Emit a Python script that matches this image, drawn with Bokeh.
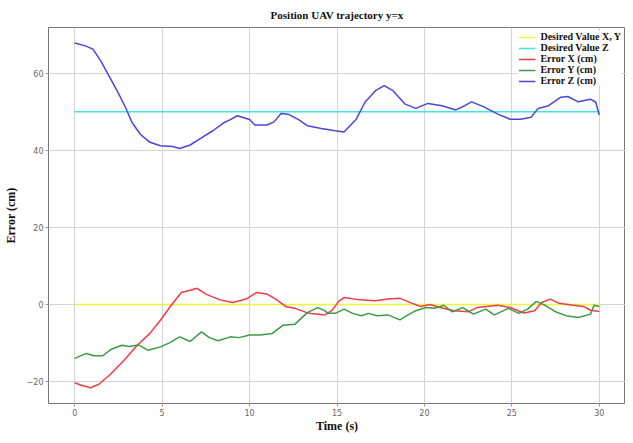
from bokeh.plotting import figure
from bokeh.models import Range1d, FixedTicker, Legend, LegendItem
from bokeh.embed import file_html
from bokeh.resources import INLINE

# ---- data ----
t_desired = [0, 30]
desired_xy = [0, 0]
desired_z = [50, 50]

t_x = [0, 0.34, 0.9, 1.38, 2.0, 2.8, 3.55, 4.3, 4.9, 5.55, 6.1, 6.6, 7.0, 7.5, 8.3,
       9.05, 9.8, 10.4, 11.0, 11.5, 12.1, 12.6, 13.4, 14.3, 14.7, 15.1, 15.4, 16.3, 17.2, 17.9,
       18.6, 19.3, 19.8, 20.3, 20.9, 21.7, 22.5, 23.0, 24.2, 24.9, 25.7, 26.3, 26.7, 27.2, 27.7,
       28.5, 29.1, 29.5, 30.0]
err_x = [-20.3, -20.9, -21.6, -20.7, -18.3, -14.6, -10.7, -7.5, -4.1, 0.0, 3.1, 3.7, 4.2, 2.7, 1.2,
         0.5, 1.4, 3.1, 2.7, 1.4, -0.6, -1.0, -2.3, -2.7, -1.6, 0.8, 1.8, 1.2, 1.0, 1.4,
         1.6, 0.3, -0.5, 0.0, -0.8, -1.6, -1.9, -0.8, -0.2, -0.8, -2.2, -1.6, 0.5, 1.4, 0.3,
         -0.2, -0.5, -1.5, -1.8]

t_y = [0, 0.66, 1.1, 1.6, 2.1, 2.7, 3.1, 3.65, 4.2, 4.9, 5.45, 6.0, 6.6, 7.25, 7.7,
       8.2, 8.9, 9.4, 10.0, 10.6, 11.3, 11.9, 12.6, 13.3, 13.9, 14.3, 14.5, 14.9, 15.4, 15.9,
       16.4, 16.8, 17.3, 17.9, 18.6, 19.0, 19.5, 20.1, 20.6, 21.1, 21.6, 22.2, 22.8, 23.5, 24.0,
       24.8, 25.4, 25.9, 26.4, 26.9, 27.5, 28.1, 28.8, 29.5, 29.7, 30.0]
err_y = [-14.0, -12.7, -13.3, -13.3, -11.6, -10.6, -10.9, -10.5, -11.9, -11.0, -9.9, -8.4, -9.6, -7.1, -8.6,
         -9.4, -8.4, -8.6, -7.9, -7.9, -7.5, -5.4, -5.1, -2.1, -0.8, -1.6, -2.3, -2.3, -1.2, -2.3,
         -2.9, -2.3, -2.9, -2.7, -4.0, -2.9, -1.6, -0.8, -1.0, -0.2, -1.9, -0.8, -2.5, -1.2, -2.7,
         -1.0, -2.3, -1.2, 0.8, -0.2, -1.9, -2.9, -3.4, -2.5, -0.2, -0.5]

t_z = [0, 0.57, 1.04, 1.48, 1.95, 2.42, 2.9, 3.27, 3.75, 4.3, 4.9, 5.6, 6.0, 6.6, 7.2,
       7.9, 8.5, 8.9, 9.3, 10.0, 10.3, 11.0, 11.4, 11.8, 12.2, 12.8, 13.3, 14.1, 14.9, 15.4,
       16.1, 16.6, 17.2, 17.7, 18.2, 18.9, 19.5, 20.2, 21.0, 21.8, 22.3, 22.7, 23.4, 24.2, 24.9,
       25.5, 26.1, 26.5, 27.1, 27.8, 28.2, 28.8, 29.5, 29.8, 30.0]
err_z = [67.9, 67.2, 66.3, 63.3, 59.4, 55.5, 51.2, 47.3, 44.2, 42.1, 41.2, 41.0, 40.5, 41.4, 43.1,
         45.1, 47.1, 48.0, 49.0, 48.0, 46.6, 46.6, 47.4, 49.6, 49.4, 48.0, 46.4, 45.7, 45.1, 44.8,
         48.1, 52.5, 55.5, 56.8, 55.5, 52.0, 50.9, 52.2, 51.6, 50.5, 51.6, 52.6, 51.3, 49.4, 48.1,
         48.1, 48.6, 50.9, 51.6, 53.8, 54.0, 52.6, 53.3, 52.5, 49.2]

x_ticks = [0, 5, 10, 15, 20, 25, 30]
y_ticks = [-20, 0, 20, 40, 60]
labels = ["Desired Value X, Y", "Desired Value Z", "Error X (cm)", "Error Y (cm)", "Error Z (cm)"]

SERIF = "Liberation Serif"

p = figure(width=625, height=435, output_backend="svg", toolbar_location=None,
           x_range=Range1d(-1.5, 31.5), y_range=Range1d(-25.7, 71.9),
           title="Position UAV trajectory y=x",
           min_border_left=0, min_border_right=0, min_border_top=0, min_border_bottom=0)

p.title.text_font = SERIF
p.title.text_font_style = "bold"
p.title.text_font_size = "11px"
p.title.align = "center"
p.title.text_color = "#111111"
p.title.standoff = 13

p.outline_line_color = "#777777"
p.outline_line_width = 1
p.background_fill_color = "white"
p.border_fill_color = "white"

for ax in (p.xaxis[0], p.yaxis[0]):
    ax.axis_line_color = None
    ax.major_tick_line_color = "#999999"
    ax.major_tick_out = 3
    ax.major_tick_in = 0
    ax.minor_tick_line_color = None
    ax.major_label_text_font = "DejaVu Sans"
    ax.major_label_text_font_size = "8px"
    ax.major_label_text_color = "#666666"
    ax.axis_label_text_font = SERIF
    ax.axis_label_text_font_style = "bold"
    ax.axis_label_text_font_size = "12px"
    ax.axis_label_text_color = "#111111"

p.xaxis[0].ticker = FixedTicker(ticks=x_ticks)
p.yaxis[0].ticker = FixedTicker(ticks=y_ticks)
p.xaxis[0].axis_label = "Time (s)"
p.yaxis[0].axis_label = "Error (cm)"
p.xaxis[0].major_label_standoff = 2
p.xaxis[0].axis_label_standoff = 0
p.yaxis[0].major_label_standoff = 2
p.yaxis[0].axis_label_standoff = 6

p.xgrid.grid_line_color = "#d4d4d4"
p.ygrid.grid_line_color = "#d4d4d4"
p.xgrid.ticker = FixedTicker(ticks=x_ticks)
p.ygrid.ticker = FixedTicker(ticks=y_ticks)

r1 = p.line(t_desired, desired_xy, line_color="#f2f23a", line_width=1.5)
r2 = p.line(t_desired, desired_z, line_color="#3fe3ee", line_width=1.5)
r3 = p.line(t_x, err_x, line_color="#f03c44", line_width=1.5)
r4 = p.line(t_y, err_y, line_color="#3c9a44", line_width=1.5)
r5 = p.line(t_z, err_z, line_color="#4a46dc", line_width=1.5)

legend = Legend(items=[LegendItem(label=l, renderers=[r]) for l, r in zip(labels, [r1, r2, r3, r4, r5])],
                location="top_right")
legend.label_text_font = SERIF
legend.label_text_font_style = "bold"
legend.label_text_font_size = "10px"
legend.label_text_color = "#111111"
legend.label_height = 10
legend.glyph_height = 10
legend.glyph_width = 17
legend.spacing = 0
legend.padding = 4
legend.margin = 4
legend.label_standoff = 5
legend.border_line_color = None
legend.background_fill_color = "white"
legend.background_fill_alpha = 1.0
p.add_layout(legend)

open("out.html", "w").write(file_html(p, INLINE))
